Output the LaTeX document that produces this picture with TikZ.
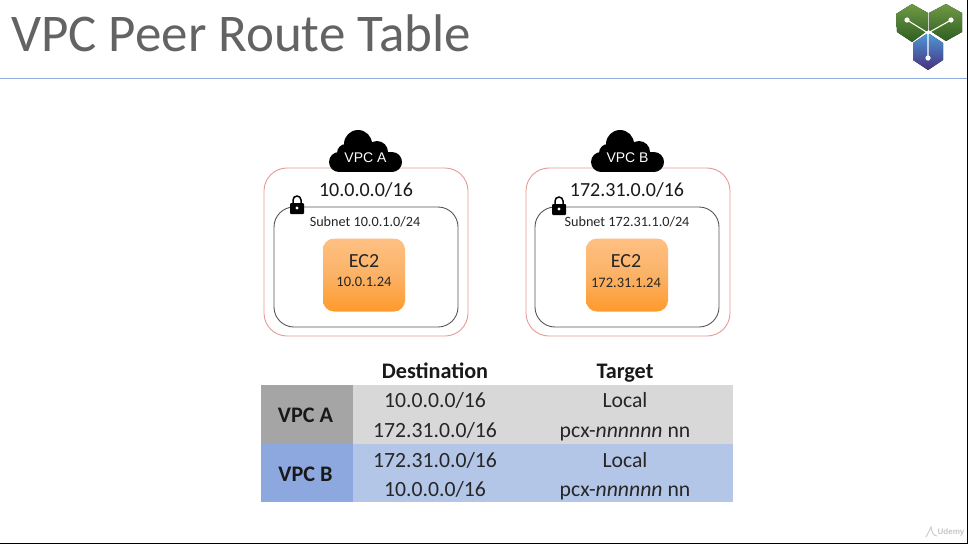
\documentclass[tikz,border=0pt]{standalone}
\usepackage{fontspec}
\setmainfont{Carlito}
\newfontfamily\arialf{Liberation Sans}
\usetikzlibrary{calc}
\definecolor{titlegray}{HTML}{636363}
\definecolor{rulecol}{HTML}{8FAADC}
\definecolor{redline}{HTML}{E39A98}
\definecolor{subline}{HTML}{555555}
\definecolor{hexgreenT}{HTML}{6F9A45}
\definecolor{hexgreenB}{HTML}{2F5E22}
\definecolor{hexblueT}{HTML}{4F9AD6}
\definecolor{hexblueB}{HTML}{47307F}
\definecolor{ecT}{HTML}{FFC083}
\definecolor{ecM}{HTML}{FBB266}
\definecolor{ecB}{HTML}{FF9A2B}
\tikzset{
  x=1pt,y=-1pt,
  vpcbox/.style={draw=redline,line width=0.9pt,rounded corners=23pt,fill=white},
  subbox/.style={draw=subline,line width=0.9pt,rounded corners=20pt,fill=white},
  ectwo/.style={rounded corners=11pt,top color=ecT,bottom color=ecB,middle color=ecM,draw=none},
  lbl/.style={text=black,inner sep=0pt,anchor=center},
  celltxt/.style={lbl,anchor=base,font=\fontsize{21.7}{24}\selectfont,text=black!85},
  headtxt/.style={lbl,anchor=base,font=\fontsize{22.2}{24}\selectfont\bfseries,text=black!90},
  hexg/.style={top color=hexgreenT,bottom color=hexgreenB,draw=none},
  hexb/.style={top color=hexblueT,bottom color=hexblueB,draw=none},
  spoke/.style={draw=white,line width=1.1pt},
}
\newcommand{\vpccloud}[1]{% cx
  \fill[black] (#1-26,162) circle[radius=10];
  \fill[black] (#1+27,162) circle[radius=10];
  \fill[black] (#1-19,153) circle[radius=9];
  \fill[black] (#1-7,144) circle[radius=14];
  \fill[black] (#1+12,152) circle[radius=11];
  \fill[black] (#1-26,152) rectangle (#1+27,172);
}
\newcommand{\vpclock}[2]{%
  \draw[black,line width=1.5pt] (#1-4,#2-1) -- (#1-4,#2-4) arc[start angle=180,end angle=360,radius=4] -- (#1+4,#2-1);
  \fill[black,rounded corners=1pt] (#1-7,#2-1) rectangle (#1+7,#2+10);
  \fill[white] (#1,#2+4) circle[radius=1.7];
}
\begin{document}
\begin{tikzpicture}
\useasboundingbox (0,0) rectangle (968,544);
\fill[white] (0,0) rectangle (968,544);
\fill[black] (0,542.5) rectangle (968,544);
\fill[black] (966.5,0) rectangle (968,544);
% title
\node[lbl,anchor=west,text=titlegray,font=\fontsize{53}{60}\selectfont] (title) at (11,33) {VPC Peer Route Table};
\coordinate (ruleL) at (0,78.5);
\coordinate (ruleR) at (966.5,78.5);
\draw[rulecol,line width=1pt] (ruleL) -- (ruleR);
% logo
\fill[hexg] (896,14) -- (912,4) -- (928,13) -- (928,30) -- (912,42) -- (897,32) -- cycle;
\fill[hexg] (929,13) -- (946,4) -- (962,13) -- (962,32) -- (946,41) -- (929,30) -- cycle;
\fill[hexb] (913,43) -- (928,33) -- (943,43) -- (943,60) -- (928,70) -- (913,60) -- cycle;
\coordinate (hub) at (928,33);
\coordinate (la) at (907,20);
\coordinate (lb) at (951,20);
\coordinate (lc) at (928,58);
\draw[spoke] (la) -- (hub) (lb) -- (hub) (lc) -- (hub);
\fill[white] (la) circle[radius=2.6];
\fill[white] (lb) circle[radius=2.6];
\fill[white] (lc) circle[radius=2.6];
\fill[white] (hub) circle[radius=1.6];
% VPC A
\node[vpcbox,minimum width=204pt,minimum height=168pt,inner sep=0pt] (vpca) at (366,252) {};
\vpccloud{365}
\node[lbl,text=white,font=\arialf\fontsize{14}{16}\selectfont] (cloudaT) at (365.5,158) {VPC A};
\node[lbl,font=\fontsize{20}{22}\selectfont,text=black!90] (cidra) at (366,190) {10.0.0.0/16};
\node[subbox,minimum width=184pt,minimum height=120pt,inner sep=0pt] (suba) at (366,267) {};
\vpclock{297}{204}
\node[lbl,font=\fontsize{14.2}{16}\selectfont,text=black!85] (subat) at (365,222) {Subnet 10.0.1.0/24};
\node[ectwo,minimum width=82pt,minimum height=73pt,inner sep=0pt] (eca) at (364,275) {};
\node[lbl,font=\fontsize{20}{22}\selectfont,text=black!85] (ecat) at (364,261) {EC2};
\node[lbl,font=\fontsize{14.5}{16}\selectfont,text=black!85] (ecaip) at (364,282) {10.0.1.24};
% VPC B
\node[vpcbox,minimum width=204pt,minimum height=168pt,inner sep=0pt] (vpcb) at (628,252) {};
\vpccloud{627}
\node[lbl,text=white,font=\arialf\fontsize{14}{16}\selectfont] (cloudbT) at (627.5,158) {VPC B};
\node[lbl,font=\fontsize{20}{22}\selectfont,text=black!90] (cidrb) at (627,190) {172.31.0.0/16};
\node[subbox,minimum width=184pt,minimum height=120pt,inner sep=0pt] (subb) at (627,267) {};
\vpclock{559}{205}
\node[lbl,font=\fontsize{14.2}{16}\selectfont,text=black!85] (subbt) at (627,222) {Subnet 172.31.1.0/24};
\node[ectwo,minimum width=82pt,minimum height=73pt,inner sep=0pt] (ecb) at (627,275) {};
\node[lbl,font=\fontsize{20}{22}\selectfont,text=black!85] (ecbt) at (626,261) {EC2};
\node[lbl,font=\fontsize{14.5}{16}\selectfont,text=black!85] (ecbip) at (626,283) {172.31.1.24};
% table
\fill[fill={rgb,255:red,165;green,165;blue,165}] (261,385) rectangle (353,444);
\fill[fill={rgb,255:red,216;green,216;blue,217}] (353,385) rectangle (733,444);
\fill[fill={rgb,255:red,141;green,168;blue,222}] (261,444) rectangle (353,502);
\fill[fill={rgb,255:red,180;green,198;blue,232}] (353,444) rectangle (733,502);
\node[headtxt] (hd) at (435,378) {Destination};
\node[headtxt] (ht) at (625,378) {Target};
\node[headtxt] (ra) at (305.5,422) {VPC A};
\node[headtxt] (rb) at (305.5,481.5) {VPC B};
\node[celltxt] (d1) at (435,407.5) {10.0.0.0/16};
\node[celltxt] (d2) at (435,437.5) {172.31.0.0/16};
\node[celltxt] (d3) at (435,467) {172.31.0.0/16};
\node[celltxt] (d4) at (435,496.5) {10.0.0.0/16};
\node[celltxt] (t1) at (625,407.5) {Local};
\node[celltxt] (t2) at (625,437.5) {pcx-\textit{nnnnnn} nn};
\node[celltxt] (t3) at (625,467) {Local};
\node[celltxt] (t4) at (625,496.5) {pcx-\textit{nnnnnn} nn};
% watermark
\node[lbl,text=black!22,font=\arialf\fontsize{8}{9}\selectfont\bfseries] (wm) at (951,532) {Udemy};
\draw[black!20,line width=1pt] (926,537) .. controls (928,533) and (930,530) .. (931,527) .. controls (932,532) and (933,536) .. (937,536);
\end{tikzpicture}
\end{document}
